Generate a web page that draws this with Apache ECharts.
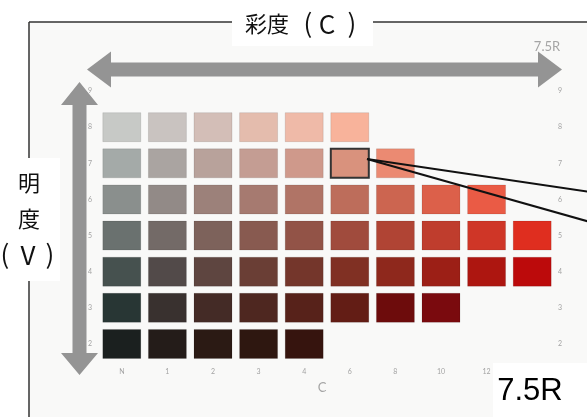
<!DOCTYPE html>
<html>
<head>
<meta charset="utf-8">
<script src="https://cdn.jsdelivr.net/npm/echarts@6/dist/echarts.min.js"></script>
<style>html,body{margin:0;padding:0;background:#fff;}#c{width:587px;height:417px;}</style>
</head>
<body>
<div id="c"></div>
<script>
// Munsell hue page 7.5R
const chromaLabels = ['N','1','2','3','4','6','8','10','12','14'];
const valueLabels = ['2','3','4','5','6','7','8','9'];
// colours of each value row, starting from chroma N
const value8 = ['#c7c9c6','#c9c3c0','#d3beb7','#e4bcad','#efbaa8','#f8b39b'];
const value7 = ['#a4aaa8','#aaa4a1','#b8a29b','#c49d93','#cf998b','#d9927d','#eb8a72'];
const value6 = ['#8a8f8d','#928a87','#9c817a','#a67a70','#b07466','#bd6d5b','#cc6550','#dc604a','#ea5b45'];
const value5 = ['#6a716f','#736a67','#7d625b','#885a50','#925347','#a04b3d','#b04434','#bf3d2d','#cf3627','#df2e1f'];
const value4 = ['#46514f','#524a49','#5e4540','#6a3e35','#74362b','#803023','#8e281c','#9c1f16','#ad1610','#bc0a0b'];
const value3 = ['#283634','#39312f','#442b26','#4e2720','#57221a','#631d15','#6d0c0c','#7a0a0e'];
const value2 = ['#1b201f','#241c19','#2b1a14','#2e1710','#36140e'];
const rows = [
  ['2', value2], ['3', value3], ['4', value4], ['5', value5],
  ['6', value6], ['7', value7], ['8', value8]
];
const highlight = ['6', '7']; // chroma, value

const data = [];
rows.forEach(([v, cols]) => {
  const yi = valueLabels.indexOf(v);
  cols.forEach((col, xi) => data.push([xi, yi, col]));
});

const chart = echarts.init(document.getElementById('c'));
const hx = chromaLabels.indexOf(highlight[0]);
const hy = valueLabels.indexOf(highlight[1]);

const labelStyle = {color:'#a3a3a3', fontSize:7, fontFamily:'Lato, "DejaVu Sans", sans-serif'};
const cjk = '"Noto Sans CJK JP", "Noto Sans CJK SC", sans-serif';
function t(x, y, s, extra) {
  return {type:'text', z:61, x:x, y:y, style:Object.assign({text:s, fill:'#111', fontSize:22,
    fontFamily:cjk, align:'center', verticalAlign:'middle'}, extra || {})};
}
const big = {fontSize:26};

chart.setOption({
  backgroundColor:'#ffffff',
  animation:false,
  grid:{left:99, right:32, top:73, bottom:55},
  xAxis:{type:'category', data:chromaLabels, axisLine:{show:false}, axisTick:{show:false},
    splitLine:{show:false}, axisLabel:Object.assign({margin:6}, labelStyle)},
  yAxis:[
    {type:'category', data:valueLabels, axisLine:{show:false}, axisTick:{show:false},
     axisLabel:Object.assign({margin:7}, labelStyle)},
    {type:'category', data:valueLabels, position:'right', axisLine:{show:false}, axisTick:{show:false},
     axisLabel:Object.assign({margin:3}, labelStyle)}
  ],
  series:[{
    type:'custom',
    data:data,
    encode:{x:0, y:1},
    renderItem:function(params, api){
      const xi = api.value(0), yi = api.value(1);
      const c = api.coord([xi, yi]);
      const s = api.size([1, 1]);
      const w = s[0]*38/45.6, h = s[1]*29/36.1;
      const isH = (xi === hx && yi === hy);
      return {
        type:'rect',
        shape:{x:c[0]-w/2, y:c[1]-h/2, width:w, height:h},
        style:{fill:data[params.dataIndex][2],
          stroke:isH ? '#333333' : 'rgba(0,0,0,0.10)', lineWidth:isH ? 2 : 1}
      };
    }
  }],
  graphic:[
    {type:'rect', z:-10, shape:{x:29, y:22, width:600, height:400}, style:{fill:'#f9f9f8'}},
    // frame
    {type:'line', z:50, shape:{x1:29, y1:22, x2:600, y2:22}, style:{stroke:'#333', lineWidth:1.5}},
    {type:'line', z:50, shape:{x1:29, y1:22, x2:29, y2:420}, style:{stroke:'#333', lineWidth:1.5}},
    // horizontal double arrow
    {type:'polygon', z:40, shape:{points:[[87,69.5],[111,51.5],[111,62.5],[538,62.5],[538,51.5],[562,69.5],[538,87.5],[538,76.5],[111,76.5],[111,87.5]]},
      style:{fill:'#949494'}},
    // vertical double arrow
    {type:'polygon', z:40, shape:{points:[[79.5,82],[98,105],[86.5,105],[86.5,353],[98,353],[79.5,375],[61,353],[72.5,353],[72.5,105],[61,105]]},
      style:{fill:'#949494'}},
    // title boxes
    {type:'rect', z:60, shape:{x:232, y:0, width:141, height:46}, style:{fill:'#ffffff'}},
    t(245, 24, '彩度', {align:'left'}),
    t(308, 23, '(', big),
    t(327, 24, 'C', big),
    t(352, 23, ')', big),
    {type:'rect', z:60, shape:{x:0, y:158, width:60, height:123}, style:{fill:'#ffffff'}},
    t(29, 183, '明'),
    t(29, 219, '度'),
    t(5, 254, '(', big),
    t(28, 255, 'V', big),
    t(50, 254, ')', big),
    // small labels
    {type:'text', z:30, x:547, y:47, style:{text:'7.5R', fill:'#a5a5a5', fontSize:13,
      fontFamily:'Lato, "DejaVu Sans", sans-serif', align:'center', verticalAlign:'middle'}},
    {type:'text', z:30, x:322, y:388, style:{text:'C', fill:'#a5a5a5', fontSize:13,
      fontFamily:'Lato, "DejaVu Sans", sans-serif', align:'center', verticalAlign:'middle'}},
    // pointer lines
    {type:'line', z:70, shape:{x1:367, y1:159, x2:590, y2:192}, style:{stroke:'#111', lineWidth:2}},
    {type:'line', z:70, shape:{x1:367, y1:159, x2:590, y2:222}, style:{stroke:'#111', lineWidth:2}},
    // 7.5R box
    {type:'rect', z:80, shape:{x:493, y:363, width:100, height:60}, style:{fill:'#ffffff'}},
    {type:'text', z:81, x:530, y:391, style:{text:'7.5R', fill:'#000', fontSize:31,
      fontFamily:'"Liberation Sans", Arial, sans-serif', align:'center', verticalAlign:'middle'}}
  ]
});
</script>
</body>
</html>
